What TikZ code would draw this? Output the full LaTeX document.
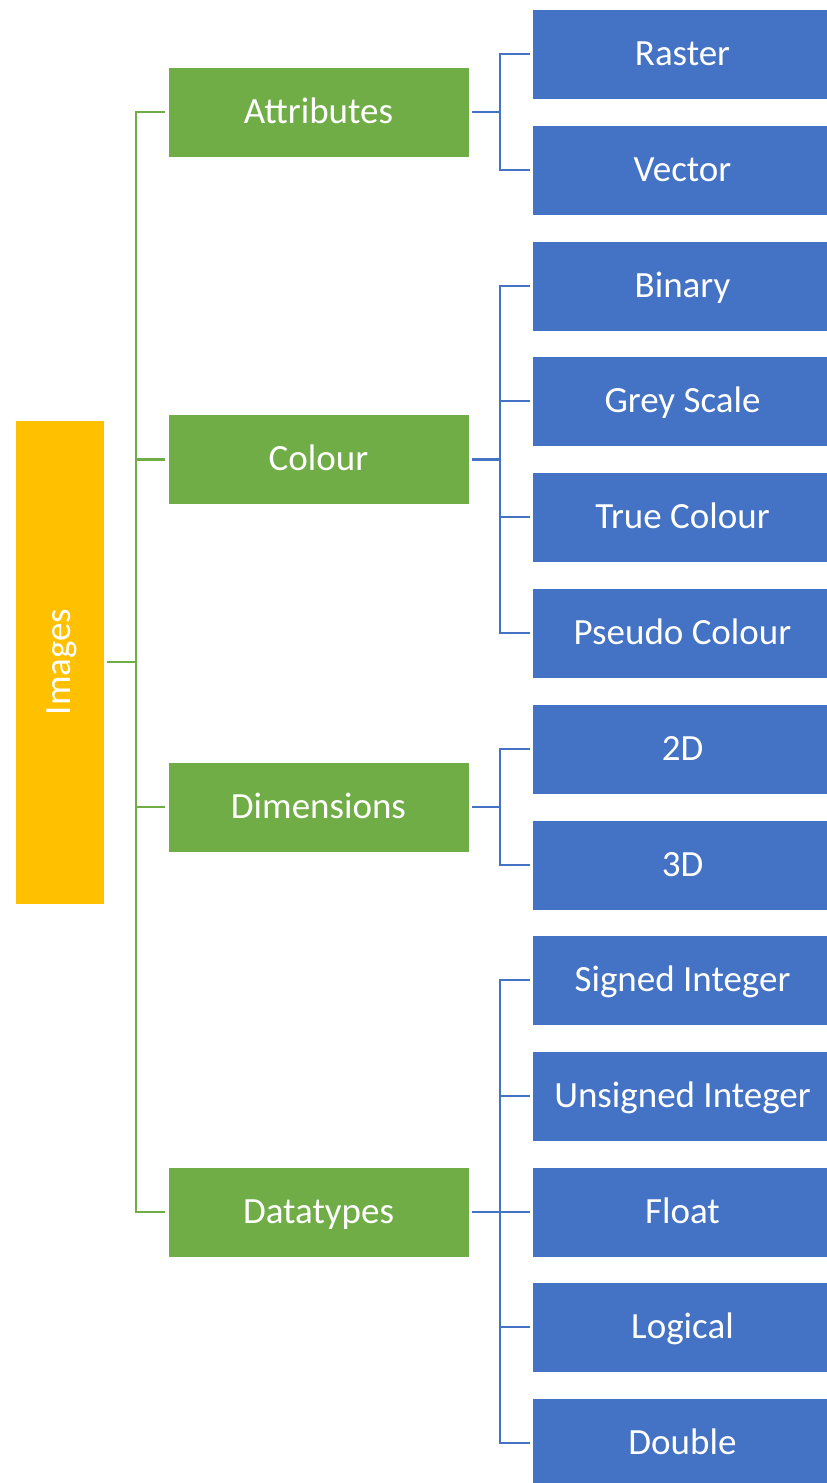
\documentclass[tikz,border=0pt]{standalone}
\usepackage{fontspec}
\setmainfont{Carlito}
\definecolor{rootyellow}{HTML}{FFC000}
\definecolor{catgreen}{HTML}{70AD47}
\definecolor{leafblue}{HTML}{4472C4}
\begin{document}
\begin{tikzpicture}[x=1pt,y=-1pt,
  box/.style={rectangle, draw=white, line width=0.6pt, text=white, inner sep=0pt,
    font=\fontsize{37}{41}\selectfont, text height=30pt, text depth=8pt},
  rootbox/.style={box, fill=rootyellow, minimum width=89pt, minimum height=484pt},
  catbox/.style={box, fill=catgreen, minimum width=301pt, minimum height=90pt},
  leafbox/.style={box, fill=leafblue, minimum width=301pt, minimum height=90pt},
  gline/.style={draw=catgreen, line width=2.4pt},
  bline/.style={draw=leafblue, line width=2.4pt}]
\useasboundingbox (0,0) rectangle (827,1483);
\begin{scope}
\clip (0,0) rectangle (827,1483);

% root
\node[rootbox] (img) at (59.5,662) {};
\node[box, rotate=90, draw=none] at (img.center) {Images};

% categories
\node[catbox] (attr) at (318.5,112) {Attributes};
\node[catbox] (col)  at (318.5,459.5) {Colour};
\node[catbox] (dim)  at (318.5,807) {Dimensions};
\node[catbox] (dt)   at (318.5,1212) {Datatypes};

% leaves
\node[leafbox] (raster) at (682.5,54) {Raster};
\node[leafbox] (vector) at (682.5,170) {Vector};
\node[leafbox] (binary) at (682.5,286) {Binary};
\node[leafbox] (grey)   at (682.5,401) {Grey Scale};
\node[leafbox] (truec)  at (682.5,517) {True Colour};
\node[leafbox] (pseudo) at (682.5,633) {Pseudo Colour};
\node[leafbox] (twod)   at (682.5,749) {2D};
\node[leafbox] (threed) at (682.5,865) {3D};
\node[leafbox] (sint)   at (682.5,980) {Signed Integer};
\node[leafbox] (uint)   at (682.5,1096) {Unsigned Integer};
\node[leafbox] (flt)    at (682.5,1212) {Float};
\node[leafbox] (logi)   at (682.5,1327) {Logical};
\node[leafbox] (dbl)    at (682.5,1443) {Double};

% trunks
\coordinate (gtrunk) at (136,0);
\coordinate (btrunk) at (500,0);

% root to categories
\draw[gline, shorten <=3pt] (img.east) -- (img.east -| gtrunk);
\foreach \c in {attr,col,dim,dt}
  \draw[gline, shorten >=3pt] (img.east -| gtrunk) |- (\c.west);

% categories to leaves
\foreach \p/\kids in {attr/{raster,vector}, col/{binary,grey,truec,pseudo},
                      dim/{twod,threed}, dt/{sint,uint,flt,logi,dbl}}{
  \draw[bline, shorten <=3pt] (\p.east) -- (\p.east -| btrunk);
  \foreach \k in \kids
    \draw[bline, shorten >=2pt] (\p.east -| btrunk) |- (\k.west);
}
\end{scope}
\end{tikzpicture}
\end{document}
